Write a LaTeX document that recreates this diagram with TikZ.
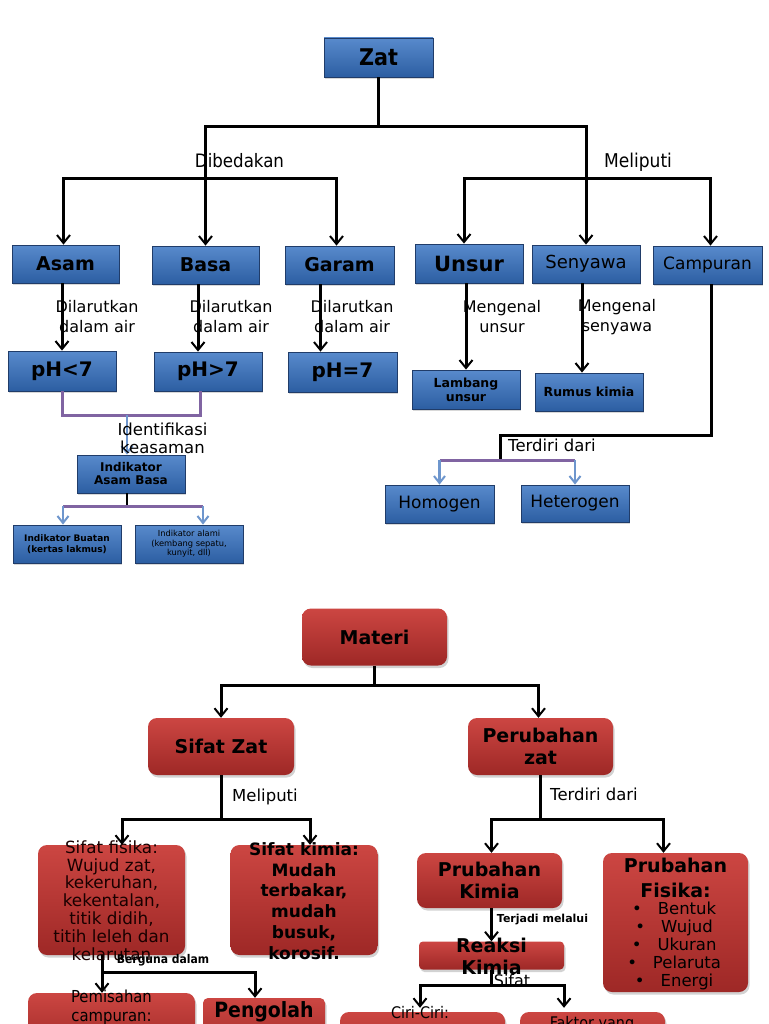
\documentclass[tikz,border=0pt]{standalone}
\usepackage{fontspec}
\setmainfont{DejaVu Sans}
\newfontfamily\cond{DejaVu Sans Condensed}
\usetikzlibrary{arrows.meta,shadows,calc}
\definecolor{bTop}{RGB}{88,138,204}
\definecolor{bBot}{RGB}{44,94,162}
\definecolor{bEdge}{RGB}{32,60,105}
\definecolor{rTop}{RGB}{204,70,66}
\definecolor{rBot}{RGB}{158,40,38}
\definecolor{purp}{RGB}{128,100,162}
\definecolor{lblue}{RGB}{110,150,205}
\newcommand\myfs[2]{\fontsize{#1pt}{#2pt}\selectfont}
\begin{document}
\begin{tikzpicture}[x=1pt,y=-1pt,
  bbox/.style={draw=bEdge,line width=0.8pt,top color=bTop,bottom color=bBot,inner sep=0pt,align=center,
    drop shadow={opacity=0.3,shadow xshift=1pt,shadow yshift=-2pt}},
  rbox/.style={rounded corners=9pt,top color=rTop,bottom color=rBot,inner sep=0pt,align=center,
    drop shadow={opacity=0.35,shadow xshift=1.5pt,shadow yshift=-2.5pt}},
  conn/.style={draw=black,line width=3pt},
  arr/.style={conn,-{Straight Barb[length=8pt,width=13pt,line width=2pt]}},
  pline/.style={draw=purp,line width=3pt},
  barrow/.style={draw=lblue,line width=2.4pt,-{Straight Barb[length=7pt,width=11pt,line width=2pt]}},
  lbl/.style={inner sep=0pt,align=center},
  sz/.style 2 args={minimum width=#1pt,minimum height=#2pt}]
\useasboundingbox (0,0) rectangle (768,1024);
\fill[white] (0,0) rectangle (768,1024);
\clip (0,0) rectangle (768,1024);

% ---------- top boxes ----------
\node[bbox,sz={109}{39},font={\cond\bfseries\myfs{23}{26}}] (zat) at (378.5,57.5) {Zat};
\node[bbox,sz={107}{38},font={\bfseries\myfs{19}{22}}] (asam) at (65.5,264) {Asam};
\node[bbox,sz={107}{38},font={\bfseries\myfs{19}{22}}] (basa) at (205.5,265) {Basa};
\node[bbox,sz={109}{38},font={\bfseries\myfs{19}{22}}] (garam) at (339.5,265) {Garam};
\node[bbox,sz={108}{39},font={\bfseries\myfs{21}{24}}] (unsur) at (469,263.5) {Unsur};
\node[bbox,sz={108}{38},font=\myfs{18}{21}] (senyawa) at (586,264) {Senyawa};
\node[bbox,sz={109}{38},font=\myfs{17}{20}] (campuran) at (707.5,265) {Campuran};
\node[bbox,sz={108}{40},font={\bfseries\myfs{20}{23}}] (ph1) at (62,371) {pH<7};
\node[bbox,sz={108}{39},font={\bfseries\myfs{20}{23}}] (ph2) at (208,371.5) {pH>7};
\node[bbox,sz={109}{40},font={\bfseries\myfs{20}{23}}] (ph3) at (342.5,372) {pH=7};
\node[bbox,sz={108}{38},font={\bfseries\myfs{12}{13}}] (ind) at (131,474) {Indikator\\Asam Basa};
\node[bbox,sz={108}{38},font={\bfseries\myfs{9}{10.5}}] (buatan) at (67,544) {Indikator Buatan\\(kertas lakmus)};
\node[bbox,sz={108}{38},font=\myfs{8.3}{9.6}] (alami) at (189,544) {Indikator alami\\(kembang sepatu,\\kunyit, dll)};
\node[bbox,sz={108}{39},font={\bfseries\myfs{12.5}{14}}] (lambang) at (466,389.5) {Lambang\\unsur};
\node[bbox,sz={108}{38},font={\bfseries\myfs{12.5}{14}}] (rumus) at (589,392) {Rumus kimia};
\node[bbox,sz={109}{38},font=\myfs{17}{20}] (homogen) at (439.5,504) {Homogen};
\node[bbox,sz={108}{37},font=\myfs{17}{20}] (heterogen) at (575,503.5) {Heterogen};

% ---------- top connectors ----------
\coordinate (h1) at (0,127);
\coordinate (h2) at (0,179);
\draw[conn] (zat.south) -- (zat.south |- h1);
\draw[arr] (zat.south |- h1) -| (basa.north);
\draw[arr] (zat.south |- h1) -| (senyawa.north);
\draw[arr] (basa.north |- h2) -| ($(asam.north)+(-2,0)$);
\draw[arr] (basa.north |- h2) -| ($(garam.north)+(-3,0)$);
\draw[arr] (senyawa.north |- h2) -| ($(unsur.north)+(-5,0)$);
\draw[arr] (senyawa.north |- h2) -| ($(campuran.north)+(3,0)$);

\draw[arr] (ph1.north |- asam.south) -- (ph1.north);
\coordinate (b1) at ($(ph2.north)+(-10,0)$);
\draw[arr] (b1 |- basa.south) -- (b1);
\coordinate (g1) at ($(ph3.north)+(-22,0)$);
\draw[arr] (g1 |- garam.south) -- (g1);

\draw[pline] (ph1.south) -- ++(0,24) -| ($(ph2.south)+(-8,0)$);
\coordinate (p1) at (127,415);
\draw[barrow] (p1) -- (p1 |- ind.north);
\coordinate (p2) at (127,506);
\draw[conn,line width=2.4pt] (p2 |- ind.south) -- (p2);
\coordinate (q1) at ($(buatan.north)+(-4,0)$);
\coordinate (q2) at ($(alami.north)+(14,0)$);
\draw[pline] (q1 |- p2) -- (q2 |- p2);
\draw[barrow] (q1 |- p2) -- (q1);
\draw[barrow] (q2 |- p2) -- (q2);

\draw[arr] (unsur.south -| lambang.north) -- (lambang.north);
\coordinate (s1) at ($(senyawa.south)+(-4,0)$);
\draw[arr] (s1) -- (s1 |- rumus.north);
\coordinate (c1) at (500,435);
\coordinate (c2) at (500,460);
\draw[conn] ($(campuran.south)+(4,0)$) |- (c1) -- (c2);
\draw[pline] (homogen.north |- c2) -- (heterogen.north |- c2);
\draw[barrow] (homogen.north |- c2) -- (homogen.north);
\draw[barrow] (heterogen.north |- c2) -- (heterogen.north);

% ---------- top labels ----------
\node[lbl,font={\cond\myfs{18.5}{21}}] (ldib) at (239.5,161) {Dibedakan};
\node[lbl,font={\cond\myfs{19}{21}}] (lmel) at (638,162) {Meliputi};
\node[lbl,font=\myfs{16}{20}] (ld1) at (97,317) {Dilarutkan\\dalam air};
\node[lbl,font=\myfs{16}{20}] (ld2) at (231,317) {Dilarutkan\\dalam air};
\node[lbl,font=\myfs{16}{20}] (ld3) at (352,317) {Dilarutkan\\dalam air};
\node[lbl,font=\myfs{16}{20}] (lmu) at (502,317) {Mengenal\\unsur};
\node[lbl,font=\myfs{16}{20}] (lms) at (617,317) {Mengenal\\senyawa};
\node[lbl,font=\myfs{16.5}{18}] (lid) at (162.5,438) {Identifikasi\\keasaman};
\node[lbl,font=\myfs{16.5}{19}] (lter) at (552,445) {Terdiri dari};

% ---------- bottom boxes ----------
\node[rbox,sz={145}{57},font={\bfseries\myfs{19}{22}}] (materi) at (374.5,637) {Materi};
\node[rbox,sz={146}{57},font={\bfseries\myfs{19}{22}}] (sifatzat) at (221,746.5) {Sifat Zat};
\node[rbox,sz={145}{57},font={\bfseries\myfs{19}{22}}] (perubahan) at (540.5,746.5) {Perubahan\\zat};
\node[rbox,sz={147}{110}] (fis) at (111.5,900) {};
\node[rbox,sz={147}{110}] (kim) at (304,900) {};
\node[rbox,sz={145}{55},font={\bfseries\myfs{19}{22}}] (pk) at (489.5,880.5) {Prubahan\\Kimia};
\node[rbox,sz={145}{139}] (pf) at (675.5,922.5) {};
\node[rbox,rounded corners=4pt,sz={145}{28}] (rk) at (491.5,955.5) {};
\node[rbox,sz={167}{60}] (pem) at (111.5,1023) {};
\node[rbox,rounded corners=5pt,sz={122}{60}] (peng) at (264,1028) {};
\node[rbox,sz={165}{60}] (ciri) at (422.5,1042) {};
\node[rbox,sz={145}{60}] (faktor) at (592.5,1042) {};

% ---------- bottom connectors ----------
\coordinate (m1) at (0,685);
\draw[conn] (materi.south) -- (materi.south |- m1);
\draw[arr] (materi.south |- m1) -| (sifatzat.north);
\draw[arr] (materi.south |- m1) -| ($(perubahan.north)+(-2,0)$);
\coordinate (m2) at (0,819);
\draw[conn] (sifatzat.south) -- (sifatzat.south |- m2);
\draw[arr] (sifatzat.south |- m2) -| ($(fis.north)+(10.5,0)$);
\draw[arr] (sifatzat.south |- m2) -| ($(kim.north)+(6,0)$);
\draw[conn] (perubahan.south) -- (perubahan.south |- m2);
\draw[arr] (perubahan.south |- m2) -| ($(pk.north)+(2,0)$);
\draw[arr] (perubahan.south |- m2) -| ($(pf.north)+(-12,0)$);
\draw[arr] (pk.south -| rk.north) -- (rk.north);
\coordinate (r1) at (0,985);
\draw[conn] (rk.south) -- (rk.south |- r1);
\draw[arr] (rk.south |- r1) -| ($(ciri.north)+(-2.5,-4)$);
\draw[arr] (rk.south |- r1) -| ($(faktor.north)+(-28.5,-4)$);
\coordinate (fb) at ($(fis.south)+(-9.5,0)$);
\coordinate (f1) at (0,972);
\draw[conn] (fb) -- (fb |- f1);
\draw[arr] (fb |- f1) -- (fb |- pem.north);
\draw[arr] (fb |- f1) -| ($(peng.north)+(-9,0)$);

% ---------- bottom texts ----------
\node[lbl,font=\myfs{16.8}{17.8},text=black!90!red] (fisT) at (111.5,900.5) {Sifat fisika:\\Wujud zat,\\kekeruhan,\\kekentalan,\\titik didih,\\titih leleh dan\\kelarutan};
\node[lbl,font={\bfseries\myfs{17}{20.8}}] (kimT) at (304,901) {Sifat kimia:\\Mudah\\terbakar,\\mudah\\busuk,\\korosif.};
\node[lbl,font={\bfseries\myfs{19}{25}}] (pfT) at (675.5,877.5) {Prubahan\\Fisika:};
\node[lbl,font=\myfs{16.5}{18}] (pfL) at (687,946) {\llap{•\hspace{16pt}}Bentuk\\\llap{•\hspace{16pt}}Wujud\\\llap{•\hspace{16pt}}Ukuran\\\llap{•\hspace{16pt}}Pelaruta\\\llap{•\hspace{16pt}}Energi};
\node[lbl,font={\bfseries\myfs{19}{22}}] (rkT) at (491.5,956) {Reaksi\\Kimia};
\node[lbl,font={\cond\myfs{16.5}{19}}] (pemT) at (111.5,1007.5) {Pemisahan\\campuran:};
\node[lbl,font={\cond\bfseries\myfs{21}{24}}] (pengT) at (264,1012) {Pengolah};
\node[lbl,font={\cond\myfs{16}{19}}] (ciriT) at (420,1013) {Ciri-Ciri:};
\node[lbl,font={\cond\myfs{16}{19}}] (faktorT) at (592,1024) {Faktor yang};

\node[lbl,font=\myfs{16.5}{19}] (lmel2) at (265,797) {Meliputi};
\node[lbl,font=\myfs{16.5}{19}] (lter2) at (594,794) {Terdiri dari};
\node[lbl,font={\cond\bfseries\myfs{12}{14}}] (lber) at (163,960) {Berguna dalam};
\node[lbl,font={\bfseries\myfs{11}{13}}] (lterj) at (542.5,919) {Terjadi melalui};
\node[lbl,font=\myfs{16}{19}] (lsif) at (512,981) {Sifat};
\end{tikzpicture}
\end{document}
